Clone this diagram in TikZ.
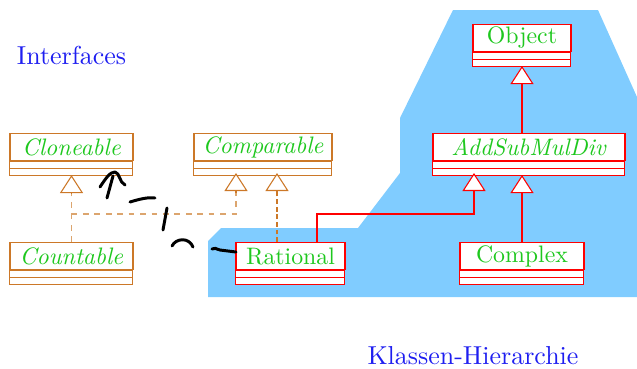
\documentclass[tikz,border=0pt]{standalone}
\usetikzlibrary{arrows.meta}
\definecolor{skyb}{RGB}{128,204,255}
\definecolor{txtg}{RGB}{30,200,30}
\definecolor{ifc}{RGB}{204,120,40}
\definecolor{ifl}{RGB}{220,165,110}
\definecolor{lblue}{RGB}{30,30,240}
\tikzset{
  tri/.style={-{Triangle[length=18*0.42pt,width=23*0.42pt,fill=white]}},
  ifdash/.style={draw=ifl, line width=0.6pt, dash pattern=on 2.4pt off 2.4pt},
  ifdashb/.style={draw=ifc, line width=0.45pt, dash pattern=on 2pt off 1.2pt},
  ifline/.style={draw=ifc, line width=0.45pt},
  redline/.style={draw=red, line width=0.45pt},
  scrib/.style={draw=black, line width=1.25pt, line cap=round, line join=round},
  lbl/.style={text=lblue, font=\fontsize{10.9}{13}\selectfont},
}
\newcommand\umlbox[6]{%
  \node[draw=#5, fill=white, line width=0.45pt, minimum width=#4*0.42pt, minimum height=27*0.42pt, inner sep=0pt, anchor=north, text=txtg, font=\fontsize{10}{12}\selectfont] (#1) at (#2,#3) {#6};
  \draw[#5, line width=0.45pt, fill=white] (#1.south west) rectangle ++(#4,14);
  \draw[#5, line width=0.45pt] (#1.south west) ++(0,7) -- ++(#4,0);
  \path (#1.south) ++(0,14) coordinate (#1-b);
}
\begin{document}
\begin{tikzpicture}[x=0.42pt, y=-0.42pt]
\useasboundingbox (0,0) rectangle (637,369);
% blue region
\fill[skyb] (208,297) -- (208,241) -- (221,228) -- (358,228) -- (400,173) -- (400,118) -- (453,10) -- (598,10) -- (637,97) -- (637,297) -- cycle;
% labels
\node[lbl] (interf) at (71.5,55) {Interfaces};
\node[lbl] (klass) at (473,356) {Klassen-Hierarchie};
% classes
\umlbox{cloneable}{71.5}{133}{123}{ifc}{\textit{Cloneable}}
\umlbox{comparable}{263}{133}{138}{ifc}{\textit{Comparable}}
\umlbox{countable}{71.5}{242}{123}{ifc}{\textit{Countable}}
\umlbox{rational}{290.5}{242}{109}{red}{Rational}
\umlbox{object}{522}{24}{98}{red}{Object}
\umlbox{asmd}{529}{133}{192}{red}{\textit{AddSubMulDiv}}
\umlbox{complex}{522}{242}{124}{red}{Complex}
% helper coordinates
\coordinate (cmp1) at (236,173);
\coordinate (cmp2) at (277,173);
\coordinate (j1) at (71.5,214);
\coordinate (r1) at (317,242);
\coordinate (a1) at (474,173);
\coordinate (tb) at (0,193);
% interface realizations
\draw[ifdash] (j1) -| (cmp1 |- tb);
\draw[ifdash] (countable.north) -- (cloneable-b |- tb);
\draw[ifline, tri] (cloneable-b |- tb) -- (cloneable-b);
\draw[ifline, tri] (cmp1 |- tb) -- (cmp1);
\draw[ifdashb] (cmp2 |- rational.north) -- (cmp2 |- tb);
\draw[ifline, tri] (cmp2 |- tb) -- (cmp2);
% class inheritance
\draw[redline, tri] (object-b |- asmd.north) -- (object-b);
\draw[redline, tri] (complex.north) -- (complex.north |- asmd-b);
\draw[redline, tri] (r1) -- (r1 |- j1) -| (a1);
% hand-drawn marks
\draw[scrib] (100,187) .. controls (106,178) and (110,172) .. (115,172) .. controls (120,173) and (119,182) .. (125,185);
\draw[scrib] (107,198) -- (113,176);
\draw[scrib] (130,202) .. controls (140,199) and (148,197) .. (155,198);
\draw[scrib] (167,208) -- (163,230);
\draw[scrib] (172,246) .. controls (176,238) and (189,237) .. (193,247);
\draw[scrib] (212,249) .. controls (214,247) and (216,249) .. (220,250) -- (236,252);
\end{tikzpicture}
\end{document}
